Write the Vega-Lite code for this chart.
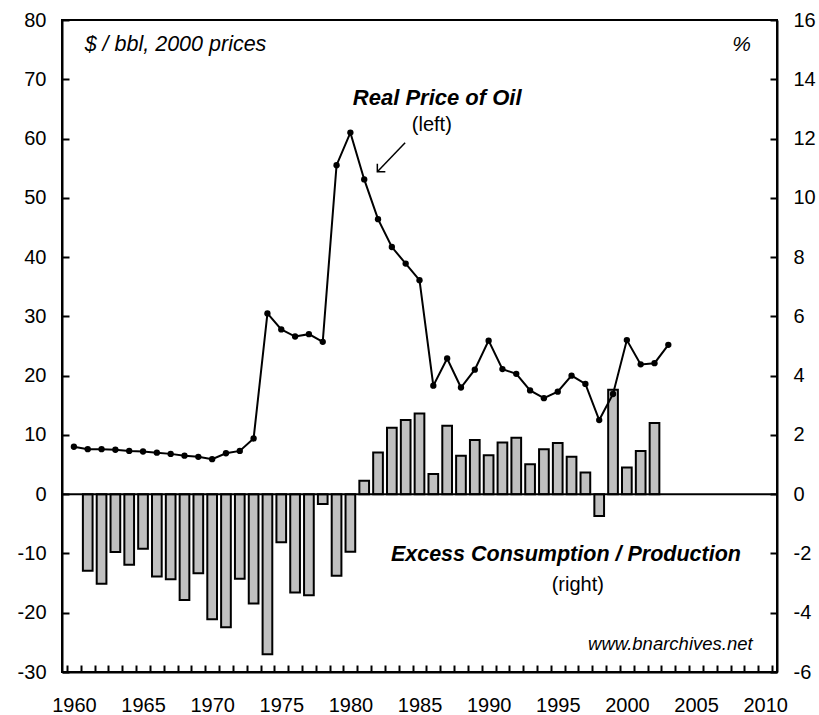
{
  "$schema": "https://vega.github.io/schema/vega-lite/v6.json",
  "width": 715,
  "height": 652,
  "autosize": {"type": "none"},
  "padding": {"left": 62, "top": 20, "right": 42, "bottom": 43},
  "background": "white",
  "config": {
    "font": "Liberation Sans",
    "view": {"stroke": "black", "strokeWidth": 2},
    "axis": {
      "domainColor": "black", "domainWidth": 2, "tickColor": "black", "tickWidth": 2,
      "labelColor": "black", "labelFont": "Liberation Sans", "labelFontSize": 20,
      "grid": false, "title": null, "labelOverlap": false, "labelFlush": false
    },
    "text": {"font": "Liberation Sans", "color": "black"}
  },
  "datasets": {
    "excess": [
      {"year": 1961, "pct": -2.58}, {"year": 1962, "pct": -3.02}, {"year": 1963, "pct": -1.95},
      {"year": 1964, "pct": -2.38}, {"year": 1965, "pct": -1.84}, {"year": 1966, "pct": -2.78},
      {"year": 1967, "pct": -2.87}, {"year": 1968, "pct": -3.57}, {"year": 1969, "pct": -2.67},
      {"year": 1970, "pct": -4.22}, {"year": 1971, "pct": -4.49}, {"year": 1972, "pct": -2.85},
      {"year": 1973, "pct": -3.69}, {"year": 1974, "pct": -5.40}, {"year": 1975, "pct": -1.62},
      {"year": 1976, "pct": -3.32}, {"year": 1977, "pct": -3.41}, {"year": 1978, "pct": -0.33},
      {"year": 1979, "pct": -2.75}, {"year": 1980, "pct": -1.94}, {"year": 1981, "pct": 0.45},
      {"year": 1982, "pct": 1.41}, {"year": 1983, "pct": 2.24}, {"year": 1984, "pct": 2.50},
      {"year": 1985, "pct": 2.72}, {"year": 1986, "pct": 0.68}, {"year": 1987, "pct": 2.31},
      {"year": 1988, "pct": 1.30}, {"year": 1989, "pct": 1.83}, {"year": 1990, "pct": 1.31},
      {"year": 1991, "pct": 1.74}, {"year": 1992, "pct": 1.90}, {"year": 1993, "pct": 1.01},
      {"year": 1994, "pct": 1.52}, {"year": 1995, "pct": 1.73}, {"year": 1996, "pct": 1.26},
      {"year": 1997, "pct": 0.73}, {"year": 1998, "pct": -0.74}, {"year": 1999, "pct": 3.52},
      {"year": 2000, "pct": 0.90}, {"year": 2001, "pct": 1.46}, {"year": 2002, "pct": 2.40}
    ],
    "price": [
      {"year": 1960, "price": 8.0}, {"year": 1961, "price": 7.6}, {"year": 1962, "price": 7.6},
      {"year": 1963, "price": 7.5}, {"year": 1964, "price": 7.3}, {"year": 1965, "price": 7.2},
      {"year": 1966, "price": 7.0}, {"year": 1967, "price": 6.8}, {"year": 1968, "price": 6.5},
      {"year": 1969, "price": 6.3}, {"year": 1970, "price": 5.9}, {"year": 1971, "price": 6.9},
      {"year": 1972, "price": 7.3}, {"year": 1973, "price": 9.4}, {"year": 1974, "price": 30.5},
      {"year": 1975, "price": 27.8}, {"year": 1976, "price": 26.6}, {"year": 1977, "price": 27.0},
      {"year": 1978, "price": 25.7}, {"year": 1979, "price": 55.5}, {"year": 1980, "price": 61.0},
      {"year": 1981, "price": 53.1}, {"year": 1982, "price": 46.4}, {"year": 1983, "price": 41.7},
      {"year": 1984, "price": 38.9}, {"year": 1985, "price": 36.1}, {"year": 1986, "price": 18.3},
      {"year": 1987, "price": 22.9}, {"year": 1988, "price": 18.0}, {"year": 1989, "price": 21.0},
      {"year": 1990, "price": 25.9}, {"year": 1991, "price": 21.1}, {"year": 1992, "price": 20.3},
      {"year": 1993, "price": 17.5}, {"year": 1994, "price": 16.2}, {"year": 1995, "price": 17.3},
      {"year": 1996, "price": 20.0}, {"year": 1997, "price": 18.6}, {"year": 1998, "price": 12.5},
      {"year": 1999, "price": 16.9}, {"year": 2000, "price": 26.0}, {"year": 2001, "price": 21.9},
      {"year": 2002, "price": 22.1}, {"year": 2003, "price": 25.2}
    ]
  },
  "layer": [
    {
      "data": {"name": "excess"},
      "mark": {"type": "bar", "fill": "#c0c0c0", "stroke": "black", "strokeWidth": 2, "size": 9.7},
      "encoding": {
        "x": {"field": "year", "type": "quantitative",
          "scale": {"domain": [1959.5, 2010.5], "nice": false, "zero": false},
          "axis": {"values": [1959.5,1960.5,1961.5,1962.5,1963.5,1964.5,1965.5,1966.5,1967.5,1968.5,1969.5,1970.5,1971.5,1972.5,1973.5,1974.5,1975.5,1976.5,1977.5,1978.5,1979.5,1980.5,1981.5,1982.5,1983.5,1984.5,1985.5,1986.5,1987.5,1988.5,1989.5,1990.5,1991.5,1992.5,1993.5,1994.5,1995.5,1996.5,1997.5,1998.5,1999.5,2000.5,2001.5,2002.5,2003.5,2004.5,2005.5,2006.5,2007.5,2008.5,2009.5,2010.5],
            "labelExpr": "(datum.value + 0.5) % 5 == 0 ? '' + (datum.value + 0.5) : ''", "labelOffset": 7, "tickSize": -7, "labelPadding": 30}},
        "y": {
          "field": "pct", "type": "quantitative",
          "scale": {"domain": [-6, 16], "nice": false, "zero": false},
          "axis": {"orient": "right", "values": [-6,-4,-2,0,2,4,6,8,10,12,14,16], "tickSize": -7, "labelPadding": 23, "labelExpr": "'' + datum.value"}
        }
      }
    },
    {
      "layer": [
        {
          "data": {"name": "price"},
          "mark": {"type": "line", "color": "black", "strokeWidth": 2, "point": {"filled": true, "color": "black", "size": 40}},
          "encoding": {
            "x": {"field": "year", "type": "quantitative",
              "scale": {"domain": [1959.5, 2010.5], "nice": false, "zero": false},
              "axis": {"values": [1959.5,1960.5,1961.5,1962.5,1963.5,1964.5,1965.5,1966.5,1967.5,1968.5,1969.5,1970.5,1971.5,1972.5,1973.5,1974.5,1975.5,1976.5,1977.5,1978.5,1979.5,1980.5,1981.5,1982.5,1983.5,1984.5,1985.5,1986.5,1987.5,1988.5,1989.5,1990.5,1991.5,1992.5,1993.5,1994.5,1995.5,1996.5,1997.5,1998.5,1999.5,2000.5,2001.5,2002.5,2003.5,2004.5,2005.5,2006.5,2007.5,2008.5,2009.5,2010.5],
                "labelExpr": "(datum.value + 0.5) % 5 == 0 ? '' + (datum.value + 0.5) : ''", "labelOffset": 7, "tickSize": -7, "labelPadding": 30}},
            "y": {"field": "price", "type": "quantitative", "scale": {"domain": [-30, 80], "nice": false, "zero": false},
              "axis": {"orient": "left", "values": [-30,-20,-10,0,10,20,30,40,50,60,70,80], "tickSize": -7, "labelPadding": 23, "labelExpr": "'' + datum.value"}}
          }
        },
        {
          "data": {"values": [{}]},
          "mark": {"type": "rule", "color": "black", "strokeWidth": 2},
          "encoding": {"y": {"datum": 0, "type": "quantitative"}}
        },
        {
          "data": {"values": [{}]},
          "mark": {"type": "text", "text": "$ / bbl, 2000 prices", "fontStyle": "italic", "fontSize": 21.5, "align": "left", "baseline": "middle"},
          "encoding": {
            "x": {"datum": 1960.78, "type": "quantitative",
              "axis": {"values": [1959.5,1960.5,1961.5,1962.5,1963.5,1964.5,1965.5,1966.5,1967.5,1968.5,1969.5,1970.5,1971.5,1972.5,1973.5,1974.5,1975.5,1976.5,1977.5,1978.5,1979.5,1980.5,1981.5,1982.5,1983.5,1984.5,1985.5,1986.5,1987.5,1988.5,1989.5,1990.5,1991.5,1992.5,1993.5,1994.5,1995.5,1996.5,1997.5,1998.5,1999.5,2000.5,2001.5,2002.5,2003.5,2004.5,2005.5,2006.5,2007.5,2008.5,2009.5,2010.5],
                "labelExpr": "(datum.value + 0.5) % 5 == 0 ? '' + (datum.value + 0.5) : ''", "labelOffset": 7, "tickSize": -7, "labelPadding": 30}},
            "y": {"datum": 75.8, "type": "quantitative"}}
        },
        {
          "data": {"values": [{}]},
          "mark": {"type": "text", "text": "%", "fontStyle": "italic", "fontSize": 21, "align": "center", "baseline": "middle"},
          "encoding": {
            "x": {"datum": 2008.3, "type": "quantitative",
              "axis": {"values": [1959.5,1960.5,1961.5,1962.5,1963.5,1964.5,1965.5,1966.5,1967.5,1968.5,1969.5,1970.5,1971.5,1972.5,1973.5,1974.5,1975.5,1976.5,1977.5,1978.5,1979.5,1980.5,1981.5,1982.5,1983.5,1984.5,1985.5,1986.5,1987.5,1988.5,1989.5,1990.5,1991.5,1992.5,1993.5,1994.5,1995.5,1996.5,1997.5,1998.5,1999.5,2000.5,2001.5,2002.5,2003.5,2004.5,2005.5,2006.5,2007.5,2008.5,2009.5,2010.5],
                "labelExpr": "(datum.value + 0.5) % 5 == 0 ? '' + (datum.value + 0.5) : ''", "labelOffset": 7, "tickSize": -7, "labelPadding": 30}},
            "y": {"datum": 75.8, "type": "quantitative"}}
        },
        {
          "data": {"values": [{}]},
          "mark": {"type": "text", "text": "Real Price of Oil", "fontStyle": "italic", "fontWeight": "bold", "fontSize": 22, "align": "center", "baseline": "middle"},
          "encoding": {
            "x": {"datum": 1986.28, "type": "quantitative",
              "axis": {"values": [1959.5,1960.5,1961.5,1962.5,1963.5,1964.5,1965.5,1966.5,1967.5,1968.5,1969.5,1970.5,1971.5,1972.5,1973.5,1974.5,1975.5,1976.5,1977.5,1978.5,1979.5,1980.5,1981.5,1982.5,1983.5,1984.5,1985.5,1986.5,1987.5,1988.5,1989.5,1990.5,1991.5,1992.5,1993.5,1994.5,1995.5,1996.5,1997.5,1998.5,1999.5,2000.5,2001.5,2002.5,2003.5,2004.5,2005.5,2006.5,2007.5,2008.5,2009.5,2010.5],
                "labelExpr": "(datum.value + 0.5) % 5 == 0 ? '' + (datum.value + 0.5) : ''", "labelOffset": 7, "tickSize": -7, "labelPadding": 30}},
            "y": {"datum": 66.85, "type": "quantitative"}}
        },
        {
          "data": {"values": [{}]},
          "mark": {"type": "text", "text": "(left)", "fontSize": 20, "align": "center", "baseline": "middle"},
          "encoding": {
            "x": {"datum": 1985.89, "type": "quantitative",
              "axis": {"values": [1959.5,1960.5,1961.5,1962.5,1963.5,1964.5,1965.5,1966.5,1967.5,1968.5,1969.5,1970.5,1971.5,1972.5,1973.5,1974.5,1975.5,1976.5,1977.5,1978.5,1979.5,1980.5,1981.5,1982.5,1983.5,1984.5,1985.5,1986.5,1987.5,1988.5,1989.5,1990.5,1991.5,1992.5,1993.5,1994.5,1995.5,1996.5,1997.5,1998.5,1999.5,2000.5,2001.5,2002.5,2003.5,2004.5,2005.5,2006.5,2007.5,2008.5,2009.5,2010.5],
                "labelExpr": "(datum.value + 0.5) % 5 == 0 ? '' + (datum.value + 0.5) : ''", "labelOffset": 7, "tickSize": -7, "labelPadding": 30}},
            "y": {"datum": 62.3, "type": "quantitative"}}
        },
        {
          "data": {"values": [{}]},
          "mark": {"type": "text", "text": "Excess Consumption / Production", "fontStyle": "italic", "fontWeight": "bold", "fontSize": 21.5, "align": "center", "baseline": "middle"},
          "encoding": {
            "x": {"datum": 1995.59, "type": "quantitative",
              "axis": {"values": [1959.5,1960.5,1961.5,1962.5,1963.5,1964.5,1965.5,1966.5,1967.5,1968.5,1969.5,1970.5,1971.5,1972.5,1973.5,1974.5,1975.5,1976.5,1977.5,1978.5,1979.5,1980.5,1981.5,1982.5,1983.5,1984.5,1985.5,1986.5,1987.5,1988.5,1989.5,1990.5,1991.5,1992.5,1993.5,1994.5,1995.5,1996.5,1997.5,1998.5,1999.5,2000.5,2001.5,2002.5,2003.5,2004.5,2005.5,2006.5,2007.5,2008.5,2009.5,2010.5],
                "labelExpr": "(datum.value + 0.5) % 5 == 0 ? '' + (datum.value + 0.5) : ''", "labelOffset": 7, "tickSize": -7, "labelPadding": 30}},
            "y": {"datum": -10.26, "type": "quantitative"}}
        },
        {
          "data": {"values": [{}]},
          "mark": {"type": "text", "text": "(right)", "fontSize": 20, "align": "center", "baseline": "middle"},
          "encoding": {
            "x": {"datum": 1996.45, "type": "quantitative",
              "axis": {"values": [1959.5,1960.5,1961.5,1962.5,1963.5,1964.5,1965.5,1966.5,1967.5,1968.5,1969.5,1970.5,1971.5,1972.5,1973.5,1974.5,1975.5,1976.5,1977.5,1978.5,1979.5,1980.5,1981.5,1982.5,1983.5,1984.5,1985.5,1986.5,1987.5,1988.5,1989.5,1990.5,1991.5,1992.5,1993.5,1994.5,1995.5,1996.5,1997.5,1998.5,1999.5,2000.5,2001.5,2002.5,2003.5,2004.5,2005.5,2006.5,2007.5,2008.5,2009.5,2010.5],
                "labelExpr": "(datum.value + 0.5) % 5 == 0 ? '' + (datum.value + 0.5) : ''", "labelOffset": 7, "tickSize": -7, "labelPadding": 30}},
            "y": {"datum": -15.3, "type": "quantitative"}}
        },
        {
          "data": {"values": [{}]},
          "mark": {"type": "text", "text": "www.bnarchives.net", "fontStyle": "italic", "fontSize": 18.5, "align": "right", "baseline": "middle"},
          "encoding": {
            "x": {"datum": 2009.1, "type": "quantitative",
              "axis": {"values": [1959.5,1960.5,1961.5,1962.5,1963.5,1964.5,1965.5,1966.5,1967.5,1968.5,1969.5,1970.5,1971.5,1972.5,1973.5,1974.5,1975.5,1976.5,1977.5,1978.5,1979.5,1980.5,1981.5,1982.5,1983.5,1984.5,1985.5,1986.5,1987.5,1988.5,1989.5,1990.5,1991.5,1992.5,1993.5,1994.5,1995.5,1996.5,1997.5,1998.5,1999.5,2000.5,2001.5,2002.5,2003.5,2004.5,2005.5,2006.5,2007.5,2008.5,2009.5,2010.5],
                "labelExpr": "(datum.value + 0.5) % 5 == 0 ? '' + (datum.value + 0.5) : ''", "labelOffset": 7, "tickSize": -7, "labelPadding": 30}},
            "y": {"datum": -25.3, "type": "quantitative"}}
        },
        {
          "data": {"values": [{}]},
          "mark": {"type": "rule", "color": "black", "strokeWidth": 1.5},
          "encoding": {
            "x": {"datum": 1983.96, "type": "quantitative",
              "axis": {"values": [1959.5,1960.5,1961.5,1962.5,1963.5,1964.5,1965.5,1966.5,1967.5,1968.5,1969.5,1970.5,1971.5,1972.5,1973.5,1974.5,1975.5,1976.5,1977.5,1978.5,1979.5,1980.5,1981.5,1982.5,1983.5,1984.5,1985.5,1986.5,1987.5,1988.5,1989.5,1990.5,1991.5,1992.5,1993.5,1994.5,1995.5,1996.5,1997.5,1998.5,1999.5,2000.5,2001.5,2002.5,2003.5,2004.5,2005.5,2006.5,2007.5,2008.5,2009.5,2010.5],
                "labelExpr": "(datum.value + 0.5) % 5 == 0 ? '' + (datum.value + 0.5) : ''", "labelOffset": 7, "tickSize": -7, "labelPadding": 30}},
            "y": {"datum": 59.3, "type": "quantitative"},
            "x2": {"datum": 1981.95}, "y2": {"datum": 54.4}
          }
        },
        {
          "data": {"values": [{}]},
          "mark": {"type": "point", "shape": "M1,0L0,0L0,-1", "filled": false, "stroke": "black", "strokeWidth": 1.5, "size": 256, "opacity": 1},
          "encoding": {
            "x": {"datum": 1981.95, "type": "quantitative",
              "axis": {"values": [1959.5,1960.5,1961.5,1962.5,1963.5,1964.5,1965.5,1966.5,1967.5,1968.5,1969.5,1970.5,1971.5,1972.5,1973.5,1974.5,1975.5,1976.5,1977.5,1978.5,1979.5,1980.5,1981.5,1982.5,1983.5,1984.5,1985.5,1986.5,1987.5,1988.5,1989.5,1990.5,1991.5,1992.5,1993.5,1994.5,1995.5,1996.5,1997.5,1998.5,1999.5,2000.5,2001.5,2002.5,2003.5,2004.5,2005.5,2006.5,2007.5,2008.5,2009.5,2010.5],
                "labelExpr": "(datum.value + 0.5) % 5 == 0 ? '' + (datum.value + 0.5) : ''", "labelOffset": 7, "tickSize": -7, "labelPadding": 30}},
            "y": {"datum": 54.4, "type": "quantitative"}}
        }
      ]
    }
  ],
  "resolve": {"scale": {"y": "independent"}, "axis": {"y": "independent"}}
}
